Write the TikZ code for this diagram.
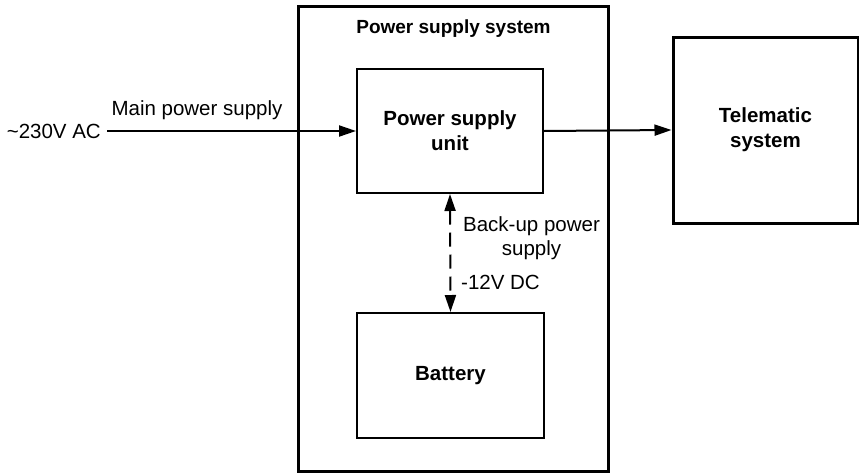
\documentclass[tikz,border=0pt]{standalone}
\usepackage{fontspec}
\setmainfont{Liberation Sans}
\usetikzlibrary{arrows.meta}
\begin{document}
\begin{tikzpicture}[x=1pt,y=-1pt,
  txt/.style={font=\fontsize{20.5}{24.6}\selectfont, inner sep=0pt},
  btxt/.style={font=\fontsize{20.5}{25}\selectfont\bfseries, inner sep=0pt, align=center},
  box/.style={draw, line width=2pt, minimum width=#1, inner sep=0pt},
  conn/.style={line width=2pt, -{Triangle[length=17pt,width=11pt]}}
]
\useasboundingbox (0,0) rectangle (859,474);
\node[draw, line width=3pt, minimum width=310pt, minimum height=465pt] (sys) at (453,238.5) {};
\node[btxt, font=\fontsize{19}{23}\selectfont\bfseries] (title) at (453.5,29) {Power supply system};
\node[box=186pt, minimum height=124pt, btxt] (psu) at (450,131) {Power supply\\unit};
\node[box=187pt, minimum height=125pt, btxt] (bat) at (450.5,375.5) {Battery};
\node[box=185pt, line width=3pt, minimum height=186pt, btxt] (tel) at (765.5,130) {Telematic\\system};
\node[txt, anchor=east] (ac) at (101,131) {\textasciitilde230V AC};
\coordinate (in) at (107,131);
\node[txt] (main) at (197,110) {Main power supply};
\draw[conn] (in) -- (psu.west);
\draw[conn] (psu.east) -- (tel.west);
\draw[line width=2pt, dash pattern=on 14pt off 8pt, {Triangle[length=17pt,width=11pt]}-{Triangle[length=17pt,width=11pt]}] (psu.south) -- (bat.north);
\node[txt, align=center] (backup) at (531.5,238) {Back-up power\\supply};
\node[txt, anchor=west] (dc) at (461,282) {-12V DC};
\end{tikzpicture}
\end{document}
